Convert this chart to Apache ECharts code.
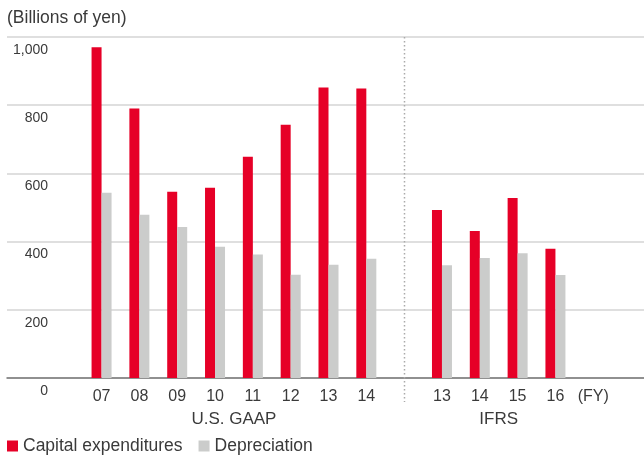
<!DOCTYPE html>
<html>
<head>
<meta charset="utf-8">
<script src="https://cdn.jsdelivr.net/npm/echarts@6/dist/echarts.min.js"></script>
<style>
  html, body { margin: 0; padding: 0; background: #fff; }
  #chart { width: 644px; height: 457px; }
</style>
</head>
<body>
<div id="chart"></div>
<script>
// fiscal years, two accounting standards
const gaapYears = ['07', '08', '09', '10', '11', '12', '13', '14']
const ifrsYears = ['13', '14', '15', '16']
const gaapCapex = [970, 790, 546, 558, 649, 743, 852, 849]
const gaapDepreciation = [543, 479, 443, 385, 362, 303, 332, 350]
const ifrsCapex = [493, 431, 528, 379]
const ifrsDepreciation = [331, 352, 366, 302]
const yTicks = [0, 200, 400, 600, 800, 1000]
const groupNames = ['U.S. GAAP', 'IFRS']

const font = 'Liberation Sans, Arial, sans-serif'
const textColor = '#3a3a3a'

// two blank slots on the left, one between the groups, (FY) and a blank at the end
const categories = ['', ''].concat(gaapYears, [''], ifrsYears, ['(FY)', ''])
const capex = [null, null].concat(gaapCapex, [null], ifrsCapex, [null, null])
const depreciation = [null, null].concat(gaapDepreciation, [null], ifrsDepreciation, [null, null])
const gaapStart = 2
const sepIndex = gaapStart + gaapYears.length
const ifrsStart = sepIndex + 1

const chart = echarts.init(document.getElementById('chart'))

chart.setOption({
  animation: false,
  title: {
    text: '(Billions of yen)',
    left: 7,
    top: 9,
    padding: 0,
    textStyle: { fontFamily: font, fontSize: 17.5, fontWeight: 'normal', color: textColor }
  },
  legend: {
    left: 7,
    top: 437,
    padding: 0,
    icon: 'rect',
    itemWidth: 11,
    itemHeight: 11,
    itemGap: 16,
    textStyle: { fontFamily: font, fontSize: 17.5, color: textColor }
  },
  grid: {
    left: 7,
    width: 643,
    top: 37,
    bottom: 79,
    outerBoundsMode: 'none'
  },
  xAxis: {
    type: 'category',
    data: categories,
    axisLine: { lineStyle: { color: '#777', width: 1.5 } },
    axisTick: { show: false },
    axisLabel: {
      interval: 0,
      margin: 11,
      fontFamily: font,
      fontSize: 16,
      color: textColor
    }
  },
  yAxis: {
    type: 'value',
    min: yTicks[0],
    max: yTicks[yTicks.length - 1],
    interval: 200,
    axisLine: { show: false },
    axisTick: { show: false },
    splitLine: { lineStyle: { color: '#d4d4d4', width: 1.5 } },
    axisLabel: {
      inside: true,
      align: 'right',
      verticalAlign: 'top',
      margin: 41,
      padding: [6, 0, 0, 0],
      fontFamily: font,
      fontSize: 14,
      color: textColor,
      formatter: v => v.toLocaleString('en-US')
    }
  },
  series: [
    {
      name: 'Capital expenditures',
      type: 'bar',
      barWidth: 10,
      barGap: '0%',
      itemStyle: { color: '#e60027' },
      data: capex
    },
    {
      name: 'Depreciation',
      type: 'bar',
      barWidth: 10,
      itemStyle: { color: '#cbcccb' },
      data: depreciation
    }
  ]
})

// separator and group names placed through the axis scales
const xAt = i => chart.convertToPixel({ xAxisIndex: 0 }, i)
const yTop = chart.convertToPixel({ yAxisIndex: 0 }, yTicks[yTicks.length - 1])
const yBase = chart.convertToPixel({ yAxisIndex: 0 }, 0)
const sepX = Math.round(xAt(sepIndex)) + 0.5
const groupStyle = { fontFamily: font, fontSize: 17, fill: textColor, align: 'center', verticalAlign: 'middle' }

chart.setOption({
  graphic: [
    {
      type: 'line',
      shape: { x1: sepX, y1: yTop, x2: sepX, y2: yBase + 24 },
      style: { stroke: '#aaa', lineWidth: 1.5, lineDash: [1.5, 2.5] },
      z: 10
    },
    {
      type: 'text',
      x: (xAt(gaapStart) + xAt(gaapStart + gaapYears.length - 1)) / 2,
      y: yBase + 41,
      style: Object.assign({ text: groupNames[0] }, groupStyle)
    },
    {
      type: 'text',
      x: (xAt(ifrsStart) + xAt(ifrsStart + ifrsYears.length - 1)) / 2,
      y: yBase + 41,
      style: Object.assign({ text: groupNames[1] }, groupStyle)
    }
  ]
})
</script>
</body>
</html>
